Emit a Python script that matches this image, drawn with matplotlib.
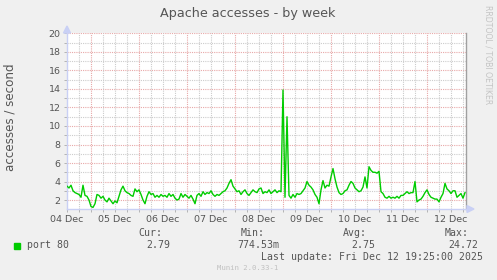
import numpy as np
import matplotlib
matplotlib.use("Agg")
import matplotlib.pyplot as plt
from matplotlib.patches import Rectangle, Polygon

W, H = 497, 280

title = "Apache accesses - by week"
y_label = "accesses / second"
day_labels = ["04 Dec", "05 Dec", "06 Dec", "07 Dec", "08 Dec",
              "09 Dec", "10 Dec", "11 Dec", "12 Dec"]
first_hour = 12  # first sample: 04 Dec 12:00, one sample per hour

# hourly accesses / second
rate = [
    3.5, 3.3, 3.6, 3.0, 2.8, 2.7, 2.6, 2.3, 3.6, 2.5, 2.4, 2.0,
    1.3, 1.2, 1.6, 2.6, 2.5, 2.2, 2.4, 2.0, 1.8, 2.2, 1.9, 1.6,
    1.9, 1.7, 2.4, 3.1, 3.5, 3.0, 2.8, 2.7, 2.5, 2.4, 3.2, 2.9,
    3.1, 2.6, 2.0, 1.6, 2.4, 2.9, 2.6, 2.7, 2.3, 2.5, 2.3, 2.6,
    2.4, 2.5, 2.3, 2.7, 2.4, 2.6, 2.2, 2.0, 2.1, 2.7, 2.3, 2.6,
    2.4, 2.2, 2.5, 2.1, 1.6, 2.5, 2.7, 2.4, 2.9, 2.6, 2.8, 2.7,
    3.0, 2.6, 2.4, 2.6, 2.5, 2.7, 2.9, 3.0, 3.3, 3.8, 4.2, 3.5,
    3.2, 2.9, 3.0, 2.6, 2.9, 3.1, 2.7, 2.5, 2.8, 3.1, 2.9, 2.8,
    3.2, 3.3, 2.7, 2.9, 2.8, 3.1, 2.7, 2.9, 3.1, 2.8, 3.0, 2.9,
    13.9, 2.3, 11.0, 2.5, 2.2, 2.6, 2.3, 2.7, 2.6, 2.7, 3.0, 3.3,
    4.0, 3.6, 3.4, 3.1, 2.6, 2.3, 1.6, 3.1, 4.1, 3.3, 3.6, 3.5,
    4.5, 5.4, 4.3, 3.4, 2.8, 2.6, 2.7, 3.0, 3.1, 3.6, 4.0, 3.8,
    3.3, 3.1, 2.9, 3.0, 3.4, 4.5, 3.3, 5.6, 5.2, 5.0, 5.0, 4.9,
    5.1, 2.9, 2.7, 2.3, 2.2, 2.4, 2.2, 2.3, 2.2, 2.4, 2.2, 2.5,
    2.5, 2.7, 2.9, 2.7, 2.8, 2.8, 4.0, 1.8, 2.0, 2.1, 2.4, 2.8,
    3.1, 2.6, 2.3, 2.2, 2.1, 2.1, 1.8, 2.3, 2.7, 3.8, 3.2, 3.0,
    2.7, 3.0, 3.0, 2.3, 2.5, 2.7, 2.2, 2.8,
]

legend_name = "port 80"
stat_heads = ["Cur:", "Min:", "Avg:", "Max:"]
stat_vals = ["2.79", "774.53m", "2.75", "24.72"]
last_update = "Last update: Fri Dec 12 19:25:00 2025"
footer = "Munin 2.0.33-1"
side_text = "RRDTOOL / TOBI OETIKER"

LINE = "#00cc00"
TXT = "#555555"
MGRID = "#e8a8a8"
GRID = "#cccccc"
AXIS = "#c9d0f5"
DOT = (0, (1, 1))


def fx(px):
    return px / W


def fy(py):
    return 1 - py / H


fig = plt.figure(figsize=(W / 100, H / 100), dpi=100, facecolor="#f0f0f0")
ax = fig.add_axes([fx(67), fy(209), 399 / W, 176 / H])
ax.set_facecolor("white")

hours = first_hour + np.arange(len(rate))
ax.set_xlim(12, 211.5)
ax.set_ylim(1.03, 20.05)

# grid
for v in range(2, 21):
    ax.axhline(v, color=MGRID if v % 2 == 0 else GRID, lw=0.8, ls=DOT, zorder=1)
for h in range(18, 212, 6):
    ax.axvline(h, color=MGRID if h % 24 == 0 else GRID, lw=0.8, ls=DOT, zorder=1)

ax.plot(hours, rate, color=LINE, lw=1.0, zorder=3)

# axes
ax.spines["top"].set_visible(False)
ax.spines["right"].set_color("#a0a0a0")
ax.spines["left"].set_color(AXIS)
ax.spines["bottom"].set_color(AXIS)
for s in ax.spines.values():
    s.set_linewidth(1.0)

ax.set_yticks(range(2, 21, 2))
ax.set_yticks(range(3, 21, 2), minor=True)
ax.set_xticks([12 + 24 * i for i in range(len(day_labels))])
ax.set_xticklabels(day_labels)
ax.set_xticks(range(18, 212, 6), minor=True)
ax.tick_params(axis="both", which="both", length=2.5, width=0.6, color="#aaaaaa",
               labelsize=6.8, labelcolor=TXT)
ax.tick_params(axis="y", pad=2)
ax.tick_params(axis="x", pad=1.5)

# arrow heads on the axes
fig.patches.append(Polygon([(fx(67), fy(26)), (fx(63.5), fy(33)), (fx(70.5), fy(33))],
                           closed=True, color=AXIS, transform=fig.transFigure))
fig.patches.append(Polygon([(fx(474), fy(209)), (fx(467), fy(205.5)), (fx(467), fy(212.5))],
                           closed=True, color=AXIS, transform=fig.transFigure))

fig.text(fx(248), fy(13), title, ha="center", va="center", fontsize=9.2, color=TXT)
fig.text(fx(10), fy(117), y_label, ha="center", va="center", rotation=90,
         fontsize=8.6, color=TXT)
fig.text(fx(488), fy(5), side_text, ha="center", va="top", rotation=270,
         fontsize=5.6, color="#c4c4c4")

# legend
mono = "DejaVu Sans Mono"
fig.patches.append(Rectangle((fx(14), fy(249)), 6 / W, 6 / H, color=LINE,
                             transform=fig.transFigure))
fig.text(fx(27), fy(245.5), legend_name, ha="left", va="center",
         family=mono, fontsize=7.1, color=TXT)
head_right = [162, 265, 367, 469]
val_right = [170, 279, 375, 478]
for hd, hx in zip(stat_heads, head_right):
    fig.text(fx(hx), fy(232.5), hd, ha="right", va="center", family=mono,
             fontsize=7.1, color=TXT)
for vv, vx in zip(stat_vals, val_right):
    fig.text(fx(vx), fy(245.5), vv, ha="right", va="center", family=mono,
             fontsize=7.1, color=TXT)
fig.text(fx(483), fy(257), last_update, ha="right", va="center", family=mono,
         fontsize=7.1, color=TXT)
fig.text(fx(248), fy(268.5), footer, ha="center", va="center", family=mono,
         fontsize=5.2, color="#c0c0c0")

fig.savefig("out.png", dpi=100, facecolor=fig.get_facecolor())
